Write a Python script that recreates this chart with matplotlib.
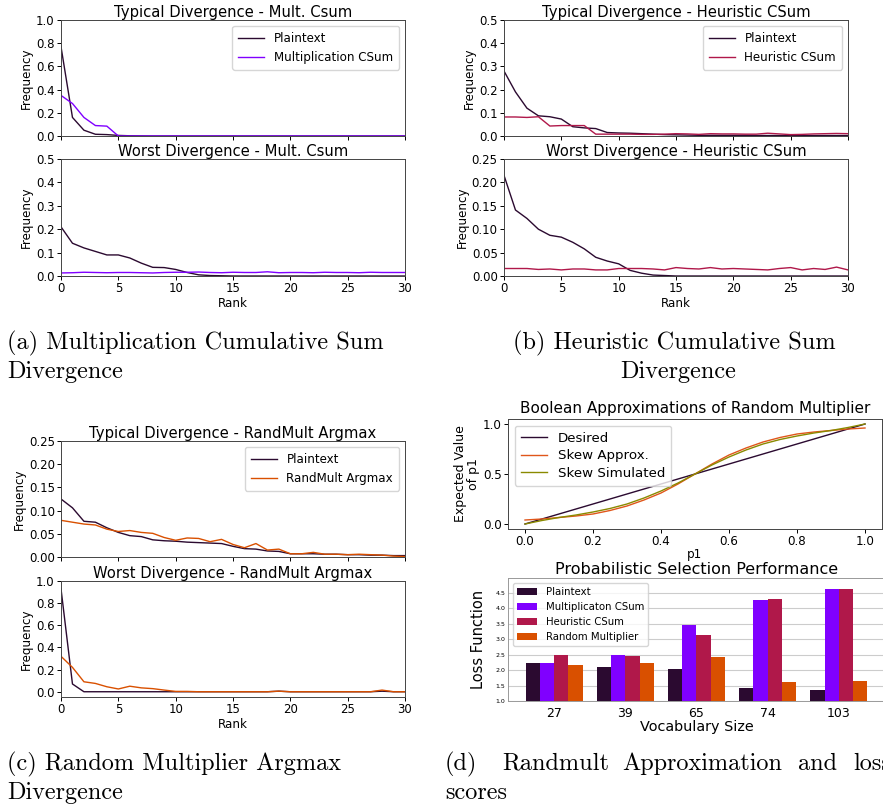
import numpy as np
import matplotlib
matplotlib.use("Agg")
import matplotlib.pyplot as plt

# ---- data ----
rank = list(range(31))

# (a) multiplication cumulative sum
a_typ_plain = [0.77, 0.16, 0.05, 0.015, 0.012, 0.005, 0.002, 0.001] + [0.0] * 23
a_typ_mult = [0.35, 0.28, 0.16, 0.09, 0.085, 0.0] + [0.0] * 25
a_worst_plain = [0.21, 0.14, 0.12, 0.105, 0.09, 0.09, 0.077, 0.055, 0.037, 0.036,
                 0.028, 0.015, 0.005, 0.002, 0.001] + [0.0] * 16
a_worst_mult = [0.013, 0.014, 0.016, 0.015, 0.014, 0.015, 0.015, 0.014, 0.013, 0.015,
                0.016, 0.016, 0.017, 0.015, 0.014, 0.016, 0.015, 0.015, 0.018, 0.014,
                0.015, 0.015, 0.014, 0.016, 0.015, 0.015, 0.014, 0.016, 0.015, 0.015, 0.015]

# (b) heuristic cumulative sum
b_typ_plain = [0.28, 0.19, 0.12, 0.087, 0.083, 0.073, 0.04, 0.035, 0.032, 0.015,
               0.013, 0.012, 0.01, 0.008, 0.006, 0.005, 0.004, 0.003, 0.003, 0.003,
               0.003, 0.003, 0.002, 0.002, 0.002, 0.002, 0.002, 0.002, 0.002, 0.002, 0.002]
b_typ_heur = [0.082, 0.082, 0.08, 0.083, 0.043, 0.045, 0.045, 0.045, 0.008, 0.008,
              0.008, 0.008, 0.007, 0.007, 0.008, 0.01, 0.009, 0.007, 0.01, 0.009,
              0.009, 0.008, 0.008, 0.012, 0.009, 0.006, 0.007, 0.009, 0.01, 0.011, 0.01]
b_worst_plain = [0.215, 0.141, 0.123, 0.1, 0.087, 0.083, 0.072, 0.058, 0.04, 0.032,
                 0.026, 0.012, 0.006, 0.002, 0.001] + [0.0] * 16
b_worst_heur = [0.016, 0.016, 0.016, 0.014, 0.015, 0.013, 0.015, 0.015, 0.013, 0.013,
                0.016, 0.016, 0.016, 0.015, 0.013, 0.018, 0.016, 0.015, 0.018, 0.015,
                0.016, 0.015, 0.014, 0.013, 0.016, 0.018, 0.013, 0.016, 0.014, 0.019, 0.013]

# (c) random multiplier argmax
c_typ_plain = [0.125, 0.106, 0.077, 0.075, 0.063, 0.053, 0.046, 0.044, 0.037, 0.035,
               0.034, 0.032, 0.031, 0.030, 0.029, 0.023, 0.018, 0.017, 0.013, 0.012,
               0.007, 0.007, 0.007, 0.006, 0.006, 0.005, 0.005, 0.004, 0.004, 0.003, 0.003]
c_typ_rand = [0.079, 0.075, 0.071, 0.069, 0.06, 0.055, 0.057, 0.053, 0.051, 0.042,
              0.036, 0.041, 0.04, 0.033, 0.038, 0.027, 0.02, 0.029, 0.015, 0.017,
              0.007, 0.007, 0.01, 0.006, 0.006, 0.005, 0.006, 0.005, 0.004, 0.002, 0.001]
c_worst_plain = [0.93, 0.07] + [0.0] * 17 + [0.005] + [0.0] * 8 + [0.005, 0.0, 0.0]
c_worst_rand = [0.32, 0.22, 0.09, 0.075, 0.045, 0.025, 0.05, 0.035, 0.028, 0.015,
                0.003, 0.003] + [0.0] * 7 + [0.005] + [0.0] * 8 + [0.015, 0.0, 0.0]

# (d) boolean approximation
p1 = [0.0, 0.05, 0.1, 0.15, 0.2, 0.25, 0.3, 0.35, 0.4, 0.45, 0.5,
      0.55, 0.6, 0.65, 0.7, 0.75, 0.8, 0.85, 0.9, 0.95, 1.0]
desired = p1
skew_approx = [0.04, 0.05, 0.065, 0.08, 0.10, 0.135, 0.18, 0.24, 0.31, 0.40, 0.50,
               0.60, 0.69, 0.76, 0.82, 0.865, 0.90, 0.92, 0.935, 0.95, 0.96]
skew_sim = [0.0, 0.035, 0.065, 0.09, 0.12, 0.155, 0.20, 0.26, 0.33, 0.41, 0.50,
            0.59, 0.67, 0.74, 0.80, 0.845, 0.88, 0.91, 0.935, 0.965, 1.0]

# (d) loss bars
vocab = ["27", "39", "65", "74", "103"]
loss_plain = [2.24, 2.10, 2.04, 1.41, 1.37]
loss_mult = [2.24, 2.48, 3.47, 4.26, 4.61]
loss_heur = [2.50, 2.45, 3.13, 4.30, 4.61]
loss_rand = [2.16, 2.24, 2.43, 1.62, 1.66]

c_plain = "#2b0a30"
c_mult = "#8000ff"
c_heur = "#b0184a"
c_rand = "#d95000"
c_sim = "#8a8a00"

W, H = 883, 808
fig = plt.figure(figsize=(W / 100, H / 100), dpi=100)


def ax_px(l, t, r, b):
    return fig.add_axes([l / W, 1 - b / H, (r - l) / W, (b - t) / H])


def style(ax, fs=8.5):
    ax.tick_params(labelsize=fs, length=3, width=0.7, pad=1.5)
    for s in ax.spines.values():
        s.set_linewidth(0.7)
        s.set_color("#444444")


def div_pair(l, r, t1, b1, t2, b2, title1, title2, d1, d2, d3, d4, lab2, col2,
             ylim1, ylim2, yt1, yt2, fmt1, fmt2):
    ax1 = ax_px(l, t1, r, b1)
    ax1.plot(rank, d1, color=c_plain, lw=1, label="Plaintext")
    ax1.plot(rank, d2, color=col2, lw=1, label=lab2)
    ax1.set_xlim(0, 30)
    ax1.set_ylim(*ylim1)
    ax1.set_yticks(yt1)
    ax1.set_yticklabels([fmt1 % v for v in yt1])
    ax1.set_xticks([0, 5, 10, 15, 20, 25, 30])
    ax1.set_xticklabels([])
    ax1.set_title(title1, fontsize=10.6, pad=2)
    ax1.set_ylabel("Frequency", fontsize=8.6, labelpad=2)
    ax1.legend(loc="upper right", fontsize=8.6, handlelength=2.2, borderpad=0.5)
    style(ax1)

    ax2 = ax_px(l, t2, r, b2)
    ax2.plot(rank, d3, color=c_plain, lw=1)
    ax2.plot(rank, d4, color=col2, lw=1)
    ax2.set_xlim(0, 30)
    ax2.set_ylim(*ylim2)
    ax2.set_yticks(yt2)
    ax2.set_yticklabels([fmt2 % v for v in yt2])
    ax2.set_xticks([0, 5, 10, 15, 20, 25, 30])
    ax2.set_title(title2, fontsize=10.6, pad=2)
    ax2.set_ylabel("Frequency", fontsize=8.6, labelpad=2)
    ax2.set_xlabel("Rank", fontsize=8.6, labelpad=1)
    style(ax2)
    return ax1, ax2


div_pair(61, 405, 20, 136, 159, 276,
         "Typical Divergence - Mult. Csum", "Worst Divergence - Mult. Csum",
         a_typ_plain, a_typ_mult, a_worst_plain, a_worst_mult,
         "Multiplication CSum", c_mult, (0, 1.0), (0, 0.5),
         [0, 0.2, 0.4, 0.6, 0.8, 1.0], [0, 0.1, 0.2, 0.3, 0.4, 0.5], "%.1f", "%.1f")

div_pair(504, 848, 20, 136, 159, 276,
         "Typical Divergence - Heuristic CSum", "Worst Divergence - Heuristic CSum",
         b_typ_plain, b_typ_heur, b_worst_plain, b_worst_heur,
         "Heuristic CSum", c_heur, (0, 0.5), (0, 0.25),
         [0, 0.1, 0.2, 0.3, 0.4, 0.5], [0, 0.05, 0.10, 0.15, 0.20, 0.25], "%.1f", "%.2f")

div_pair(61, 405, 441, 557, 581, 697,
         "Typical Divergence - RandMult Argmax", "Worst Divergence - RandMult Argmax",
         c_typ_plain, c_typ_rand, c_worst_plain, c_worst_rand,
         "RandMult Argmax", c_rand, (0, 0.25), (-0.0475, 1.0),
         [0, 0.05, 0.10, 0.15, 0.20, 0.25], [0, 0.2, 0.4, 0.6, 0.8, 1.0], "%.2f", "%.1f")

# (d) top: boolean approximation
axd = ax_px(508, 419, 882, 529)
axd.plot(p1, desired, color=c_plain, lw=1, label="Desired")
axd.plot(p1, skew_approx, color="#e0561a", lw=1, label="Skew Approx.")
axd.plot(p1, skew_sim, color=c_sim, lw=1, label="Skew Simulated")
axd.set_yticks([0.0, 0.5, 1.0])
axd.set_xticks([0.0, 0.2, 0.4, 0.6, 0.8, 1.0])
axd.set_title("Boolean Approximations of Random Multiplier", fontsize=11, pad=4)
axd.set_xlabel("p1", fontsize=8.6, labelpad=0)
axd.set_ylabel("Expected Value\nof p1", fontsize=9, labelpad=2, linespacing=1.0)
axd.legend(loc="upper left", fontsize=9.6, handlelength=2.0, borderpad=0.45,
           labelspacing=0.35)
style(axd, 8.6)

# (d) bottom: loss bars
axb = ax_px(508, 578, 885, 701)
x = np.arange(len(vocab))
w = 0.2
axb.bar(x - 1.5 * w, loss_plain, w, color=c_plain, label="Plaintext", zorder=3)
axb.bar(x - 0.5 * w, loss_mult, w, color=c_mult, label="Multiplicaton CSum", zorder=3)
axb.bar(x + 0.5 * w, loss_heur, w, color=c_heur, label="Heuristic CSum", zorder=3)
axb.bar(x + 1.5 * w, loss_rand, w, color=c_rand, label="Random Multiplier", zorder=3)
axb.set_xlim(-0.65, 4.65)
axb.set_ylim(1.0, 4.98)
axb.set_yticks([1.0, 1.5, 2.0, 2.5, 3.0, 3.5, 4.0, 4.5])
axb.set_xticks(x)
axb.set_xticklabels(vocab)
axb.grid(axis="y", color="#cccccc", lw=0.8, zorder=0)
axb.tick_params(axis="y", labelsize=4.5, length=0, pad=2)
axb.tick_params(axis="x", labelsize=9, length=0, pad=4)
for s in axb.spines.values():
    s.set_linewidth(0.7)
    s.set_color("#999999")
axb.set_title("Probabilistic Selection Performance", fontsize=11.5, pad=3)
axb.set_xlabel("Vocabulary Size", fontsize=10.4, labelpad=0)
axb.set_ylabel("Loss Function", fontsize=10.5, labelpad=7)
axb.legend(loc="upper left", fontsize=7.3, handlelength=2.0, borderpad=0.4,
           labelspacing=0.5)

# captions
cap = dict(fontfamily="cmr10", fontsize=17.5, va="baseline")
fig.text(7 / W, 1 - 349 / H, "(a) Multiplication Cumulative Sum", **cap)
fig.text(7 / W, 1 - 378 / H, "Divergence", **cap)
fig.text(513 / W, 1 - 349 / H, "(b) Heuristic Cumulative Sum", **cap)
fig.text(678 / W, 1 - 378 / H, "Divergence", ha="center", **cap)
fig.text(7 / W, 1 - 770 / H, "(c) Random Multiplier Argmax", **cap)
fig.text(7 / W, 1 - 799 / H, "Divergence", **cap)
for word, xp in [("(d)", 445), ("Randmult", 502), ("Approximation", 622),
                 ("and", 798), ("loss", 853)]:
    fig.text(xp / W, 1 - 770 / H, word, **cap)
fig.text(445 / W, 1 - 799 / H, "scores", **cap)

fig.savefig("out.png", dpi=100)
